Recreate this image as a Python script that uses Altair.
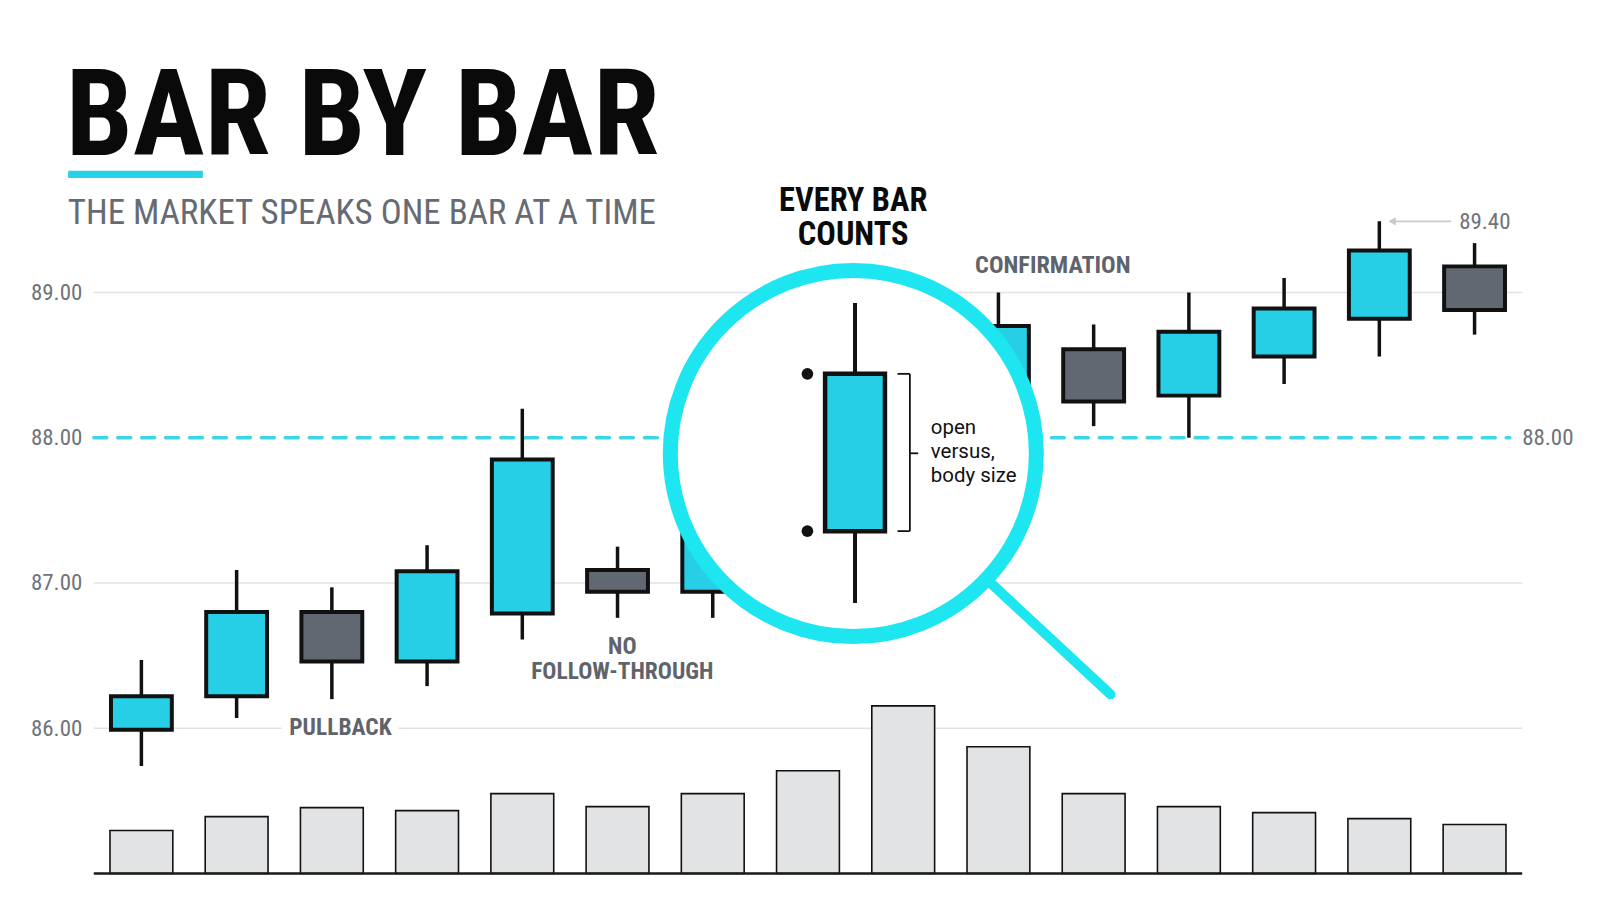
import altair as alt
import pandas as pd

# ---------------- data ----------------
bar_index = list(range(1, 16))
open_px = [85.99, 86.22, 86.80, 86.46, 86.79, 87.09, 86.94, 87.55, 88.05, 88.20, 88.61, 88.29, 88.56, 88.82, 89.18]
close_px = [86.22, 86.80, 86.46, 87.08, 87.85, 86.94, 87.60, 88.05, 88.40, 88.77, 88.25, 88.73, 88.89, 89.29, 88.88]
high_px = [86.47, 87.09, 86.97, 87.26, 88.20, 87.25, 87.75, 88.25, 88.70, 89.00, 88.78, 89.00, 89.10, 89.49, 89.34]
low_px = [85.74, 86.07, 86.20, 86.29, 86.61, 86.76, 86.76, 87.40, 87.90, 88.05, 88.08, 88.00, 88.37, 88.56, 88.71]
volume_k = [4.3, 5.7, 6.6, 6.3, 8.0, 6.7, 8.0, 10.3, 16.8, 12.7, 8.0, 6.7, 6.1, 5.5, 4.9]

tick_values = [86, 87, 88, 89]
grid_levels = [86, 87, 89]
key_level = 88.0
floor_level = 85.0

# magnified candle inside the lens
mag_index = [8.494]
mag_open = [87.357]
mag_close = [88.44]
mag_high = [88.927]
mag_low = [86.863]

# lens (magnifier) centre and handle end points
lens_index = [8.476]
lens_price = [87.8915]
handle_index = [9.919, 11.177]
handle_price = [87.0, 86.233]

# ---------------- style ----------------
W, H = 1432, 728
FONT_N = "Liberation Sans Narrow, Roboto Condensed, Arial Narrow, Roboto"
FONT_R = "Roboto"
CYAN = "#26cfe5"
GRAYB = "#626872"
RING = "#1de6f0"
DASH = "#3cd6e7"
INK = "#111111"
LBL = "#5f646c"
TICK = "#6f737a"

xs = alt.Scale(domain=[0.5, 15.5], nice=False, zero=False, padding=0)
ys = alt.Scale(domain=[85, 90], nice=False, zero=False, padding=0)
vs = alt.Scale(domain=[0, 72.8], nice=False, zero=True, padding=0)

candles = pd.DataFrame({"i": bar_index, "o": open_px, "c": close_px, "h": high_px, "l": low_px,
                        "v": volume_k})
candles["dir"] = ["up" if c > o else "down" for o, c in zip(open_px, close_px)]

X = lambda f: alt.X(f, type="quantitative", scale=xs, axis=None)
Y = lambda f: alt.Y(f, type="quantitative", scale=ys, axis=None)
one = pd.DataFrame({"k": [0]})

grid = alt.Chart(pd.DataFrame({"p": grid_levels})).mark_rule(color="#e3e3e3", strokeWidth=1.5).encode(
    y=alt.Y("p:Q", scale=ys, axis=alt.Axis(values=tick_values, format=".2f", grid=False, ticks=False,
                                           domain=False, labelPadding=12, labelFont=FONT_N,
                                           labelFontSize=23, labelColor=TICK, title=None)),
    x=alt.value(0), x2=alt.value(W))

vol = alt.Chart(candles).mark_bar(size=63, fill="#e2e3e5", stroke=INK, strokeWidth=1.6).encode(
    x=X("i"), y=alt.Y("v:Q", scale=vs, axis=None), y2=alt.datum(0))

base = alt.Chart(one).mark_rule(color="#1a1a1a", strokeWidth=2.5).encode(
    y=alt.Y(datum=floor_level, scale=ys, axis=None), x=alt.value(0), x2=alt.value(W))

dash = alt.Chart(pd.DataFrame({"a": [0.5], "b": [15.37], "p": [key_level]})).mark_rule(
    color=DASH, strokeWidth=3.5, strokeDash=[13, 11], strokeCap="round").encode(
    x=X("a"), x2="b:Q", y=Y("p"))

wicks = alt.Chart(candles).mark_rule(color=INK, strokeWidth=3.5).encode(x=X("i"), y=Y("l"), y2="h:Q")

bodies = alt.Chart(candles).mark_bar(size=61, stroke=INK, strokeWidth=4).encode(
    x=X("i"), y=Y("o"), y2="c:Q",
    color=alt.Color("dir:N", scale=alt.Scale(domain=["up", "down"], range=[CYAN, GRAYB]), legend=None))

lens = alt.Chart(pd.DataFrame({"i": lens_index, "p": lens_price})).mark_point(
    shape="circle", size=367 * 367, filled=True, fill="white", fillOpacity=1, opacity=1,
    stroke=RING, strokeWidth=15).encode(x=X("i"), y=Y("p"))

handle = alt.Chart(pd.DataFrame({"a": [handle_index[0]], "b": [handle_index[1]],
                                 "p": [handle_price[0]], "q": [handle_price[1]]})).mark_rule(
    color=RING, strokeWidth=10, strokeCap="round").encode(x=X("a"), x2="b:Q", y=Y("p"), y2="q:Q")

mag = pd.DataFrame({"i": mag_index, "o": mag_open, "c": mag_close, "h": mag_high, "l": mag_low})
mag_wick = alt.Chart(mag).mark_rule(color=INK, strokeWidth=4).encode(x=X("i"), y=Y("l"), y2="h:Q")
mag_body = alt.Chart(mag).mark_bar(size=60, fill=CYAN, stroke=INK, strokeWidth=4.5).encode(
    x=X("i"), y=Y("o"), y2="c:Q")
dots = alt.Chart(pd.DataFrame({"i": [7.994, 7.994], "p": [mag_close[0], mag_open[0]]})).mark_point(
    shape="circle", size=137, filled=True, color=INK, opacity=1).encode(x=X("i"), y=Y("p"))

br = pd.DataFrame({
    "a": [9.07, 8.94, 8.94, 9.07],
    "b": [9.07, 9.07, 9.07, 9.157],
    "p": [mag_open[0], mag_close[0], mag_open[0], 87.893],
    "q": [mag_close[0], mag_close[0], mag_open[0], 87.893],
})
bracket = alt.Chart(br).mark_rule(color=INK, strokeWidth=1.8).encode(x=X("a"), x2="b:Q", y=Y("p"), y2="q:Q")
# multi-line texts: y is the centre of the first line
br_text = alt.Chart(pd.DataFrame({"i": [9.29], "p": [88.066], "t": ["open\nversus,\nbody size"]})).mark_text(
    align="left", baseline="middle", lineBreak="\n", lineHeight=24.2, font=FONT_R, fontSize=20.5,
    color=INK).encode(x=X("i"), y=Y("p"), text="t:N")

# ---------------- headings and annotations ----------------
title = alt.Chart(pd.DataFrame({"t": ["BAR BY BAR"]})).mark_text(
    align="left", baseline="alphabetic", font=FONT_N, fontWeight="bold", fontSize=120, color="#0a0a0a").encode(
    x=alt.value(-28), y=alt.value(7.5), text="t:N")
underline = alt.Chart(one).mark_rule(color="#25d2e8", strokeWidth=7.3).encode(
    x=alt.value(-25.7), x2=alt.value(109.3), y=alt.value(27.2))
subtitle = alt.Chart(pd.DataFrame({"t": ["THE MARKET SPEAKS ONE BAR AT A TIME"]})).mark_text(
    align="left", baseline="alphabetic", font=FONT_N, fontSize=35, color="#666b73").encode(
    x=alt.value(-26), y=alt.value(77), text="t:N")

every = alt.Chart(pd.DataFrame({"i": [8.475], "p": [89.633], "t": ["EVERY BAR\nCOUNTS"]})).mark_text(
    align="center", baseline="middle", lineBreak="\n", lineHeight=34.7, font=FONT_N, fontWeight="bold",
    fontSize=32.5, color="#0a0a0a").encode(x=X("i"), y=Y("p"), text="t:N")

confirm = alt.Chart(pd.DataFrame({"i": [9.755], "p": [89.18], "t": ["CONFIRMATION"]})).mark_text(
    align="left", baseline="middle", font=FONT_N, fontWeight="bold", fontSize=24.3, color=LBL).encode(
    x=X("i"), y=Y("p"), text="t:N")

pb = pd.DataFrame({"i": [3.09], "p": [86.0], "t": ["PULLBACK"]})
pull_halo = alt.Chart(pb).mark_text(
    align="center", baseline="middle", font=FONT_N, fontWeight="bold", fontSize=23.5, color="white",
    stroke="white", strokeWidth=18).encode(x=X("i"), y=Y("p"), text="t:N")
pull = alt.Chart(pb).mark_text(
    align="center", baseline="middle", font=FONT_N, fontWeight="bold", fontSize=23.5, color=LBL).encode(
    x=X("i"), y=Y("p"), text="t:N")

nofollow = alt.Chart(pd.DataFrame({"i": [6.05], "p": [86.5625], "t": ["NO\nFOLLOW-THROUGH"]})).mark_text(
    align="center", baseline="middle", lineBreak="\n", lineHeight=26, font=FONT_N, fontWeight="bold",
    fontSize=23.5, color=LBL).encode(x=X("i"), y=Y("p"), text="t:N")

hi_label = alt.Chart(pd.DataFrame({"i": [14.838], "p": [89.483], "t": ["89.40"]})).mark_text(
    align="left", baseline="middle", font=FONT_N, fontSize=23, color=TICK).encode(
    x=X("i"), y=Y("p"), text="t:N")
arrow_line = alt.Chart(pd.DataFrame({"a": [14.11], "b": [14.755], "p": [89.49]})).mark_rule(
    color="#c6c9ce", strokeWidth=1.6).encode(x=X("a"), x2="b:Q", y=Y("p"))
arrow_head = alt.Chart(pd.DataFrame({"i": [14.135], "p": [89.49]})).mark_point(
    shape="triangle-left", size=70, filled=True, color="#c6c9ce", opacity=1).encode(x=X("i"), y=Y("p"))

lvl_label = alt.Chart(pd.DataFrame({"i": [15.5], "p": [key_level], "t": ["88.00"]})).mark_text(
    align="left", baseline="middle", font=FONT_N, fontSize=23, color=TICK).encode(
    x=X("i"), y=Y("p"), text="t:N")

chart = alt.layer(
    grid, vol, base, dash, wicks, bodies, lens, handle, mag_wick, mag_body, dots, bracket, br_text,
    title, underline, subtitle, every, confirm, pull_halo, pull, nofollow, hi_label, arrow_line,
    arrow_head, lvl_label,
).resolve_scale(y="independent").properties(
    width=W, height=H,
    padding={"left": 86, "top": 138.5, "right": 70, "bottom": 30},
    autosize=alt.AutoSizeParams(type="none"),
).configure(background="white").configure_view(stroke=None, strokeWidth=0)

chart.save("out.html", embed_options={"renderer": "svg", "actions": False})
